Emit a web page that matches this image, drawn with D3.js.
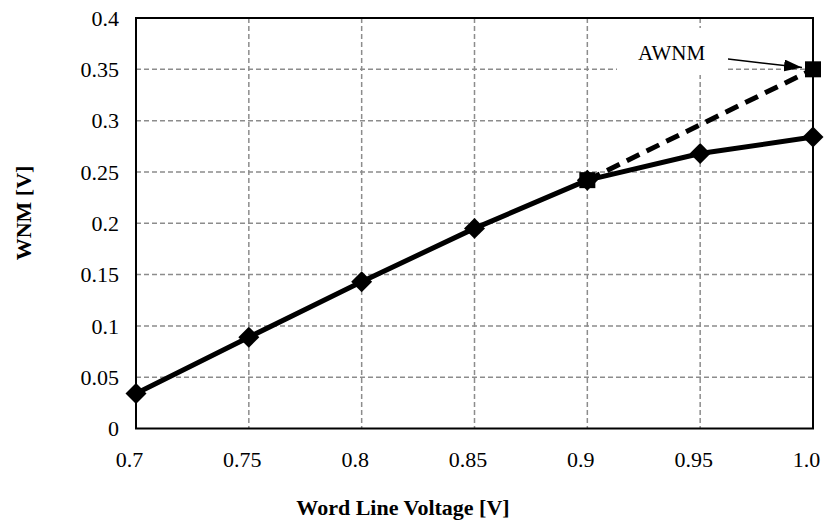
<!DOCTYPE html>
<html>
<head>
<meta charset="utf-8">
<script src="https://cdn.jsdelivr.net/npm/d3@7/dist/d3.min.js"></script>
<style>
  html, body { margin: 0; padding: 0; background: #fff; }
  svg { display: block; }
  svg text { font-family: "Liberation Serif", "Times New Roman", Times, serif !important; fill: #000; }
</style>
</head>
<body>
<svg id="chart" width="827" height="521"></svg>
<script>
// Word line voltage sweep (V)
const voltages = [0.7, 0.75, 0.8, 0.85, 0.9, 0.95, 1.0];
// Write noise margin (V)
const wnm = [0.034, 0.089, 0.143, 0.195, 0.242, 0.268, 0.284];
// Assisted write noise margin, 0.9 V -> 1.0 V
const awnmVoltages = [0.9, 1.0];
const awnm = [0.242, 0.35];

const xTicks = [0.7, 0.75, 0.8, 0.85, 0.9, 0.95, 1.0];
const xTickLabels = ["0.7", "0.75", "0.8", "0.85", "0.9", "0.95", "1.0"];
const yTicks = [0, 0.05, 0.1, 0.15, 0.2, 0.25, 0.3, 0.35, 0.4];
const yTickLabels = ["0", "0.05", "0.1", "0.15", "0.2", "0.25", "0.3", "0.35", "0.4"];

const svg = d3.select("#chart");
const plotLeft = 136, plotRight = 813, plotTop = 18, plotBottom = 428.5;

const x = d3.scaleLinear().domain([0.7, 1.0]).range([plotLeft, plotRight]);
const y = d3.scaleLinear().domain([0, 0.4]).range([plotBottom, plotTop]);

// dashed gridlines
const grid = svg.append("g");
grid.selectAll("line.h").data(yTicks.filter(v => v > 0 && v < 0.4)).enter()
  .append("line")
  .attr("x1", plotLeft).attr("x2", plotRight)
  .attr("y1", d => y(d)).attr("y2", d => y(d))
  .attr("stroke", "#8c8c8c").attr("stroke-width", 1.5)
  .attr("stroke-dasharray", "5,3");
grid.selectAll("line.v").data(xTicks.filter(v => v > 0.7 && v < 1.0)).enter()
  .append("line")
  .attr("y1", plotTop).attr("y2", plotBottom)
  .attr("x1", d => x(d)).attr("x2", d => x(d))
  .attr("stroke", "#8c8c8c").attr("stroke-width", 1.5)
  .attr("stroke-dasharray", "5,3");

// plot frame
svg.append("rect")
  .attr("x", plotLeft).attr("y", plotTop)
  .attr("width", plotRight - plotLeft).attr("height", plotBottom - plotTop)
  .attr("fill", "none").attr("stroke", "#000").attr("stroke-width", 2);

// axes (labels only)
const xAxis = d3.axisBottom(x).tickValues(xTicks)
  .tickFormat((d, i) => xTickLabels[i]).tickSize(0).tickPadding(0);
const gx = svg.append("g").attr("transform", `translate(0,${plotBottom})`).call(xAxis);
gx.attr("font-family", null).attr("font-size", 22);
gx.select(".domain").remove();
gx.selectAll("text").attr("dy", null).attr("y", 38.5).attr("dx", -7)
  .attr("font-size", 22).style("font-size", "22px");

const yAxis = d3.axisLeft(y).tickValues(yTicks)
  .tickFormat((d, i) => yTickLabels[i]).tickSize(0).tickPadding(0);
const gy = svg.append("g").attr("transform", `translate(${plotLeft - 17},0)`).call(yAxis);
gy.attr("font-family", null).attr("font-size", 22);
gy.select(".domain").remove();
gy.selectAll("text").attr("dy", "0.33em")
  .attr("font-size", 22).style("font-size", "22px");

// axis titles
svg.append("text")
  .attr("x", 403).attr("y", 515)
  .attr("text-anchor", "middle")
  .style("font-size", "22px").style("font-weight", "bold")
  .text("Word Line Voltage [V]");
svg.append("text")
  .attr("transform", "translate(31,213) rotate(-90)")
  .attr("text-anchor", "middle")
  .style("font-size", "22px").style("font-weight", "bold")
  .text("WNM [V]");

// AWNM callout box and label
svg.append("rect")
  .attr("x", 617).attr("y", 28).attr("width", 110).attr("height", 47)
  .attr("fill", "#fff");
svg.append("text")
  .attr("x", 638).attr("y", 60)
  .style("font-size", "21px")
  .text("AWNM");

const line = d3.line().x(d => x(d[0])).y(d => y(d[1]));

// assisted (dashed) series
const awnmPts = awnmVoltages.map((v, i) => [v, awnm[i]]);
svg.append("path").datum(awnmPts)
  .attr("d", line)
  .attr("fill", "none").attr("stroke", "#000")
  .attr("stroke-width", 5).attr("stroke-dasharray", "14,8");
svg.selectAll("rect.sq").data(awnmPts).enter()
  .append("rect")
  .attr("x", d => x(d[0]) - 8).attr("y", d => y(d[1]) - 8)
  .attr("width", 16).attr("height", 16)
  .attr("fill", "#000");

// WNM (solid) series
const wnmPts = voltages.map((v, i) => [v, wnm[i]]);
svg.append("path").datum(wnmPts)
  .attr("d", line)
  .attr("fill", "none").attr("stroke", "#000")
  .attr("stroke-width", 5).attr("stroke-linejoin", "round");
const diamond = d3.symbol().type(d3.symbolSquare).size(220);
svg.selectAll("path.dm").data(wnmPts).enter()
  .append("path")
  .attr("d", diamond)
  .attr("transform", d => `translate(${x(d[0])},${y(d[1])}) rotate(45)`)
  .attr("fill", "#000");

// arrow pointing at the AWNM end point
svg.append("defs").append("marker")
  .attr("id", "arrowhead")
  .attr("viewBox", "0 0 18 12").attr("refX", 18).attr("refY", 6)
  .attr("markerWidth", 18).attr("markerHeight", 12)
  .attr("markerUnits", "userSpaceOnUse")
  .attr("orient", "auto")
  .append("path").attr("d", "M0,0 L18,6 L0,12 Z").attr("fill", "#000");
svg.append("line")
  .attr("x1", 728).attr("y1", 59)
  .attr("x2", 802).attr("y2", 67.5)
  .attr("stroke", "#000").attr("stroke-width", 1.5)
  .attr("marker-end", "url(#arrowhead)");
</script>
</body>
</html>
